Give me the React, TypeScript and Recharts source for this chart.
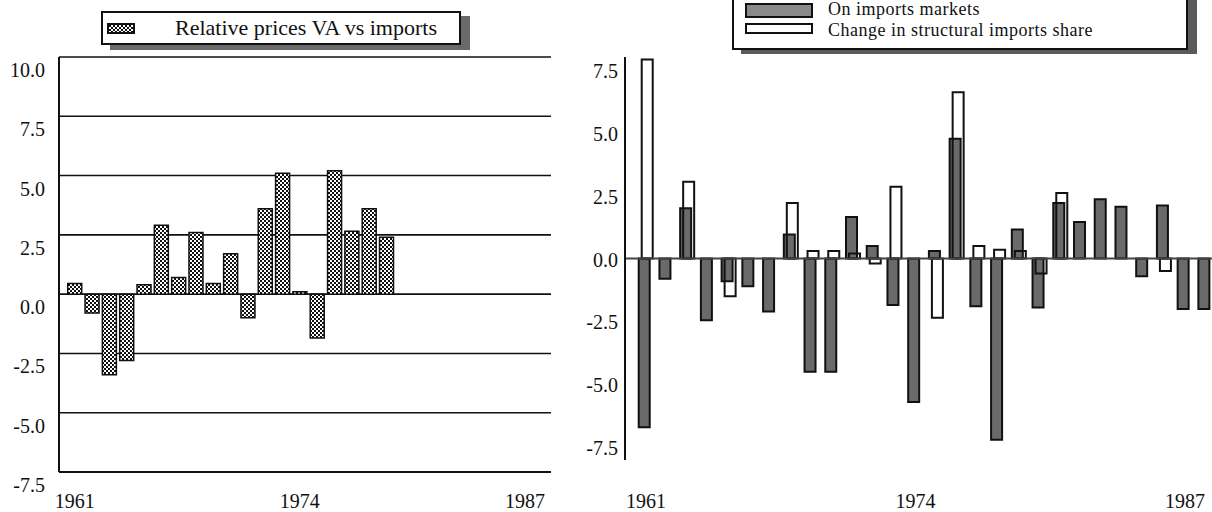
import { Bar, BarChart, CartesianGrid, ReferenceLine, XAxis, YAxis } from 'recharts';

const SERIF = "'Liberation Serif', 'Times New Roman', serif";

const YEARS = [
  1961, 1962, 1963, 1964, 1965, 1966, 1967, 1968, 1969, 1970, 1971, 1972, 1973, 1974,
  1975, 1976, 1977, 1978, 1979, 1980, 1981, 1982, 1983, 1984, 1985, 1986, 1987, 1988,
];
const LABEL_YEARS = [1961, 1974, 1987];

// left panel: relative prices VA vs imports (1961-1979)
const RELATIVE_PRICES = [
  0.45, -0.8, -3.4, -2.8, 0.4, 2.9, 0.7, 2.6, 0.45, 1.7, -1.0, 3.6, 5.1, 0.1, -1.85, 5.2,
  2.65, 3.6, 2.4,
];
const LEFT_TICKS = [-7.5, -5, -2.5, 0, 2.5, 5, 7.5, 10];

// right panel
const IMPORTS_MARKETS = [
  -6.7, -0.8, 2.0, -2.45, -0.9, -1.1, -2.1, 0.95, -4.5, -4.5, 1.65, 0.5, -1.85, -5.7, 0.3,
  4.75, -1.9, -7.2, 1.15, -1.95, 2.2, 1.45, 2.35, 2.05, -0.7, 2.1, -2.0, -2.0,
];
const STRUCTURAL_SHARE = [
  7.9, null, 3.05, null, -1.5, null, null, 2.2, 0.3, 0.3, 0.2, -0.2, 2.85, null, -2.35, 6.6,
  0.5, 0.35, 0.3, -0.6, 2.6, null, null, null, null, -0.5, null, null,
];
const RIGHT_TICKS = [-7.5, -5, -2.5, 0, 2.5, 5, 7.5];

const leftData = YEARS.map((year, i) => ({ year, rel: RELATIVE_PRICES[i] ?? null }));
const rightData = YEARS.map((year, i) => ({
  year,
  imports: IMPORTS_MARKETS[i],
  structural: STRUCTURAL_SHARE[i],
}));

const INK = '#111';

function YearTick(props: any) {
  const { x, y, payload, shift } = props;
  if (!LABEL_YEARS.includes(payload.value)) return <g />;
  return (
    <text x={x} y={y + shift} textAnchor='middle' fontFamily={SERIF} fontSize={20} fill={INK}>
      {payload.value}
    </text>
  );
}

function ValueTick(props: any) {
  const { x, y, payload, shift } = props;
  return (
    <text
      x={x}
      y={y + shift}
      textAnchor='end'
      dominantBaseline='central'
      fontFamily={SERIF}
      fontSize={20}
      fill={INK}>
      {Number(payload.value).toFixed(1)}
    </text>
  );
}

function CheckSwatch({ w, h }: { w: number; h: number }) {
  return (
    <svg width={w} height={h} style={{ display: 'block' }}>
      <defs>
        <pattern id='swatchChecks' width='4' height='4' patternUnits='userSpaceOnUse'>
          <rect width='4' height='4' fill='#fff' />
          <rect width='2' height='2' fill={INK} />
          <rect x='2' y='2' width='2' height='2' fill={INK} />
        </pattern>
      </defs>
      <rect x='1' y='1' width={w - 2} height={h - 2} fill='url(#swatchChecks)' stroke={INK} strokeWidth={2} />
    </svg>
  );
}

function LeftChart() {
  return (
    <BarChart
      width={600}
      height={512}
      data={leftData}
      margin={{ top: 57, right: 49, bottom: 0, left: 0 }}
      barCategoryGap='10%'>
      <defs>
        <pattern id='checks' width='4' height='4' patternUnits='userSpaceOnUse'>
          <rect width='4' height='4' fill='#fff' />
          <rect width='2' height='2' fill={INK} />
          <rect x='2' y='2' width='2' height='2' fill={INK} />
        </pattern>
      </defs>
      <CartesianGrid vertical={false} stroke={INK} strokeWidth={1.6} />
      <XAxis
        dataKey='year'
        height={40}
        padding={{ left: 7, right: 0 }}
        interval={0}
        tickLine={false}
        tickSize={0}
        axisLine={{ stroke: INK, strokeWidth: 2 }}
        tick={(p: any) => <YearTick {...p} shift={34} />}
      />
      <YAxis
        width={59}
        domain={[-7.5, 10]}
        ticks={LEFT_TICKS}
        interval={0}
        tickLine={false}
        tickSize={0}
        tickMargin={14}
        axisLine={{ stroke: INK, strokeWidth: 2 }}
        tick={(p: any) => <ValueTick {...p} shift={13} />}
      />
      <YAxis
        yAxisId='frame'
        orientation='right'
        width={0}
        domain={[-7.5, 10]}
        tick={false}
        tickLine={false}
        axisLine={{ stroke: INK, strokeWidth: 2 }}
      />
      <Bar dataKey='rel' fill='url(#checks)' stroke={INK} strokeWidth={1.5} isAnimationActive={false} />
    </BarChart>
  );
}

function RightChart() {
  return (
    <BarChart
      width={666}
      height={512}
      data={rightData}
      margin={{ top: 57, right: 0, bottom: 0, left: 0 }}
      barCategoryGap='15%'
      barGap={-8}>
      <XAxis
        dataKey='year'
        height={52}
        padding={{ left: 10.6, right: 10 }}
        interval={0}
        tickLine={false}
        tickSize={0}
        axisLine={false}
        tick={(p: any) => <YearTick {...p} shift={46} />}
      />
      <XAxis
        xAxisId='top'
        orientation='top'
        dataKey='year'
        height={0}
        tick={false}
        tickLine={false}
        axisLine={{ stroke: '#444', strokeWidth: 3 }}
      />
      <YAxis
        width={65}
        domain={[-8, 8]}
        ticks={RIGHT_TICKS}
        interval={0}
        tickLine={false}
        tickSize={0}
        tickMargin={7}
        axisLine={{ stroke: INK, strokeWidth: 2 }}
        tick={(p: any) => <ValueTick {...p} shift={1} />}
      />
      <ReferenceLine y={0} stroke='#444' strokeWidth={2} />
      <Bar dataKey='imports' fill='#6a6a6a' stroke={INK} strokeWidth={2} isAnimationActive={false} />
      <Bar dataKey='structural' fill='none' stroke={INK} strokeWidth={2} isAnimationActive={false} />
    </BarChart>
  );
}

export default function App() {
  return (
    <div
      style={{
        position: 'fixed',
        left: 0,
        top: 0,
        width: 1212,
        height: 512,
        overflow: 'hidden',
        background: '#fff',
        fontFamily: SERIF,
        color: INK,
      }}>
      <div style={{ position: 'absolute', left: 0, top: 0 }}>
        <LeftChart />
      </div>
      <div style={{ position: 'absolute', left: 560, top: 0 }}>
        <RightChart />
      </div>

      {/* legend, left panel */}
      <div
        style={{
          position: 'absolute',
          left: 101,
          top: 11,
          width: 356,
          height: 30,
          border: `2px solid ${INK}`,
          boxShadow: '9px 5px 0 #6a6a6a',
          background: '#fff',
        }}>
        <div style={{ position: 'absolute', left: 4, top: 10 }}>
          <CheckSwatch w={28} h={11} />
        </div>
        <div style={{ position: 'absolute', left: 72, top: 2, fontSize: 22, lineHeight: '26px', whiteSpace: 'nowrap' }}>
          Relative prices VA vs imports
        </div>
      </div>

      {/* legend, right panel */}
      <div
        style={{
          position: 'absolute',
          left: 732,
          top: -10,
          width: 452,
          height: 56,
          border: `2px solid ${INK}`,
          boxShadow: '9px 4px 0 #5a5a5a',
          background: '#fff',
        }}>
        <div
          style={{
            position: 'absolute',
            left: 11,
            top: 11,
            width: 64,
            height: 11,
            background: '#8a8a8a',
            border: `2px solid ${INK}`,
          }}
        />
        <div
          style={{
            position: 'absolute',
            left: 11,
            top: 31,
            width: 64,
            height: 7,
            background: '#fff',
            border: `2px solid ${INK}`,
          }}
        />
        <div
          style={{
            position: 'absolute',
            left: 94,
            top: 7,
            fontSize: 18,
            lineHeight: '20px',
            letterSpacing: 0.5,
            whiteSpace: 'nowrap',
          }}>
          On imports markets
        </div>
        <div
          style={{
            position: 'absolute',
            left: 94,
            top: 28,
            fontSize: 18,
            lineHeight: '20px',
            letterSpacing: 0.5,
            whiteSpace: 'nowrap',
          }}>
          Change in structural imports share
        </div>
      </div>
    </div>
  );
}
